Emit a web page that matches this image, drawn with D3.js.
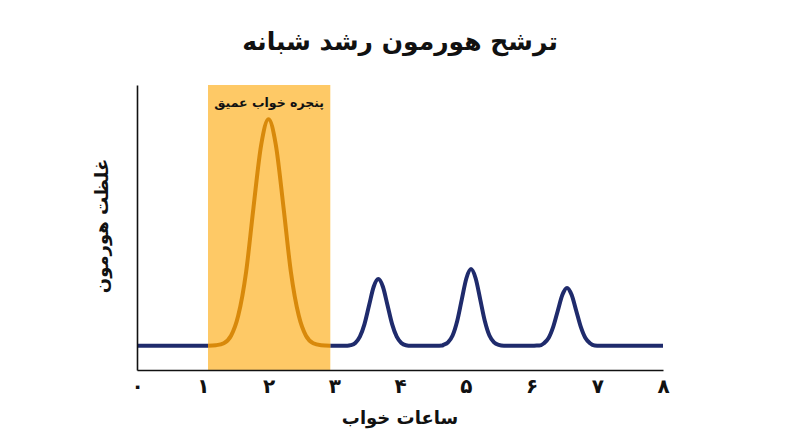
<!DOCTYPE html>
<html><head><meta charset="utf-8">
<script src="https://cdn.jsdelivr.net/npm/d3@7"></script>
<style>
html,body{margin:0;padding:0;background:#fff;}
text{font-family:"DejaVu Sans",sans-serif;}
</style></head>
<body>
<svg id="chart" width="800" height="447"></svg>
<script>
const titleText = "ترشح هورمون رشد شبانه";
const xLabel = "ساعات خواب";
const yLabel = "غلظت هورمون";
const bandLabel = "پنجره خواب عمیق";
const tickValues = [0,1,2,3,4,5,6,7,8];
const tickLabels = ["۰","۱","۲","۳","۴","۵","۶","۷","۸"];
const band = [1.08, 2.94];
// deep-sleep surge (inside band)
const surgeX = [1.08,1.2,1.32,1.43,1.54,1.66,1.77,1.89,2.0,2.11,2.23,2.34,2.46,2.57,2.68,2.8,2.94];
const surgeY = [8.5,8.7,9.4,12.0,19.1,34.5,56.7,79.2,88,79.2,56.7,34.5,19.1,12.0,9.4,8.7,8.5];
// rest of the night before band
const preX = [0, 1.08];
const preY = [8.5, 8.5];
// later pulses
const postX = [2.94,3.2,3.25,3.32,3.39,3.46,3.53,3.6,3.67,3.74,3.81,3.88,3.95,4.02,4.09,4.17,
               4.55,4.64,4.66,4.73,4.8,4.87,4.94,5.01,5.08,5.15,5.22,5.29,5.36,5.43,5.5,5.58,
               6.0,6.08,6.12,6.19,6.26,6.33,6.4,6.47,6.54,6.61,6.68,6.75,6.82,6.89,6.96,7.04,8.0];
const postY = [8.5,8.5,8.7,9.5,11.7,16.1,22.7,29.2,31.9,29.2,22.7,16.1,11.7,9.5,8.7,8.5,
               8.5,8.6,8.8,9.7,12.1,17.2,24.8,32.2,35.4,32.2,24.8,17.2,12.1,9.7,8.8,8.5,
               8.5,8.6,8.6,9.4,11.2,15.1,20.8,26.4,28.8,26.4,20.8,15.1,11.2,9.4,8.6,8.5,8.5];

const svg = d3.select("#chart");
const x = d3.scaleLinear().domain([0,8]).range([137,663]);
const y = d3.scaleLinear().domain([0,100]).range([370,85]);

// band
svg.append("rect")
  .attr("x", x(band[0])).attr("y", y(100))
  .attr("width", x(band[1]) - x(band[0]))
  .attr("height", y(0) - y(100))
  .attr("fill", "#FEC966");

svg.append("text")
  .attr("x", x((band[0]+band[1])/2)).attr("y", 107)
  .attr("text-anchor","middle").attr("font-size","12.5px").attr("font-weight","bold")
  .attr("fill","#111").attr("direction","rtl")
  .text(bandLabel);

const line = d3.line().x(d=>x(d[0])).y(d=>y(d[1])).curve(d3.curveMonotoneX);
const zip = (a,b)=>a.map((v,i)=>[v,b[i]]);

svg.append("path").datum(zip(preX,preY)).attr("d", line)
  .attr("fill","none").attr("stroke","#1F2B6C").attr("stroke-width",4).attr("stroke-linecap","butt");
svg.append("path").datum(zip(postX,postY)).attr("d", line)
  .attr("fill","none").attr("stroke","#1F2B6C").attr("stroke-width",4).attr("stroke-linejoin","round");
svg.append("path").datum(zip(surgeX,surgeY)).attr("d", line)
  .attr("fill","none").attr("stroke","#D8890B").attr("stroke-width",4).attr("stroke-linejoin","round");

// axes
const xAxis = d3.axisBottom(x).tickValues(tickValues).tickFormat((d,i)=>tickLabels[i]).tickSize(0).tickPadding(9);
const gx = svg.append("g").attr("transform",`translate(0,${y(0)})`).call(xAxis);
gx.select(".domain").attr("stroke","#111").attr("stroke-width",1.6);
gx.selectAll("text").attr("font-size","20px").attr("font-weight","bold").attr("fill","#111")
  .attr("font-family","DejaVu Sans, sans-serif");

const yAxis = d3.axisLeft(y).tickValues([]).tickSize(0);
const gy = svg.append("g").attr("transform",`translate(${x(0)},0)`).call(yAxis);
gy.select(".domain").attr("stroke","#111").attr("stroke-width",1.6);

// titles
svg.append("text").attr("x",400).attr("y",50).attr("text-anchor","middle")
  .attr("font-size","25px").attr("font-weight","bold").attr("fill","#111").attr("direction","rtl")
  .text(titleText);
svg.append("text").attr("x",400).attr("y",424).attr("text-anchor","middle")
  .attr("font-size","18px").attr("font-weight","bold").attr("fill","#111").attr("direction","rtl")
  .text(xLabel);
svg.append("text").attr("transform","translate(108,226) rotate(-90)").attr("text-anchor","middle")
  .attr("font-size","18px").attr("font-weight","bold").attr("fill","#111").attr("direction","rtl")
  .text(yLabel);
</script>
</body></html>
